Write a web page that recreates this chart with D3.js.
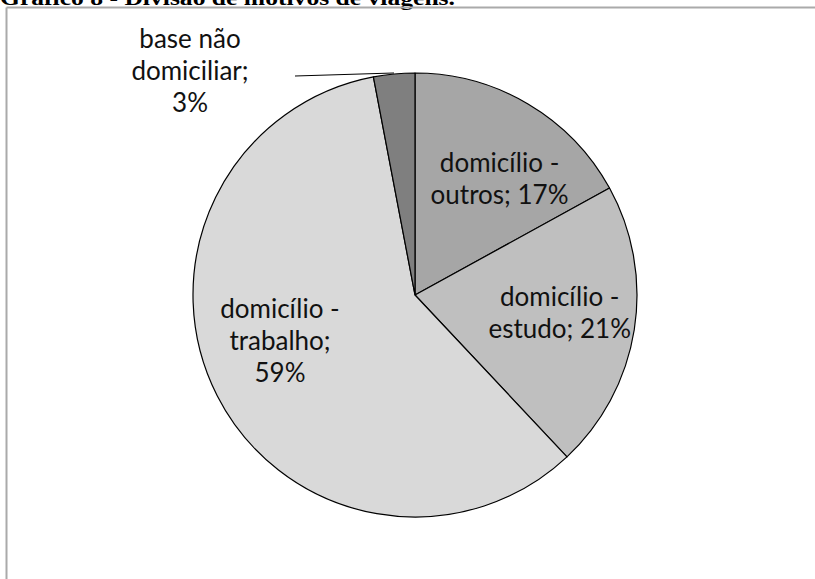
<!DOCTYPE html>
<html>
<head>
<meta charset="utf-8">
<script src="https://cdn.jsdelivr.net/npm/d3@7"></script>
<style>
  body { margin: 0; background: #fff; }
  svg { display: block; }
</style>
</head>
<body>
<svg id="chart" width="815" height="579"></svg>
<script>
// data, clockwise from 12 o'clock
const categories = ["domicílio - outros", "domicílio - estudo", "domicílio - trabalho", "base não domiciliar"];
const shares     = [17, 21, 59, 3];
const fills      = ["#a6a6a6", "#bfbfbf", "#d9d9d9", "#7f7f7f"];
// label lines as they wrap in the picture
const labelLines = [
  ["domicílio -", "outros; 17%"],
  ["domicílio -", "estudo; 21%"],
  ["domicílio -", "trabalho;", "59%"],
  ["base não", "domiciliar;", "3%"]
];

const W = 815, H = 579;
const CX = 415, CY = 295, R = 222;
const LINE_H = 32;

const svg = d3.select("#chart");

// ── title (clipped at the top, like the scan) ──
svg.append("text")
  .attr("x", 0)
  .attr("y", 5)
  .attr("font-family", "Liberation Serif, Times New Roman, serif")
  .attr("font-weight", "bold")
  .attr("font-size", "22px")
  .attr("textLength", 455)
  .attr("lengthAdjust", "spacingAndGlyphs")
  .attr("fill", "#000")
  .text("Gráfico 8 - Divisão de motivos de viagens.");

// ── chart frame (only left + top edges show) ──
svg.append("line")
  .attr("x1", 6.5).attr("y1", 7.5).attr("x2", W).attr("y2", 7.5)
  .attr("stroke", "#aaa").attr("stroke-width", 2);
svg.append("line")
  .attr("x1", 6.5).attr("y1", 7.5).attr("x2", 6.5).attr("y2", H)
  .attr("stroke", "#aaa").attr("stroke-width", 2);

const rows = categories.map((c, i) => ({ name: c, value: shares[i], fill: fills[i], lines: labelLines[i] }));

const pie = d3.pie().value(d => d.value).sort(null);
const arc = d3.arc().innerRadius(0).outerRadius(R);
const arcs = pie(rows);

const g = svg.append("g").attr("transform", `translate(${CX},${CY})`);

g.selectAll("path.slice")
  .data(arcs)
  .join("path")
  .attr("class", "slice")
  .attr("d", arc)
  .attr("fill", d => d.data.fill)
  .attr("stroke", "#000")
  .attr("stroke-width", 1.2)
  .attr("stroke-linejoin", "round");

// label anchors: inside slices for the big ones, outside for the small one
const labelArc = d3.arc().innerRadius(R * 0.66).outerRadius(R * 0.66);
const midAngle = d => (d.startAngle + d.endAngle) / 2;

function labelPos(d, i) {
  if (i === 3) return [190 - CX, 71 - CY];           // outside label, upper-left
  if (i === 2) return [280 - CX, 341 - CY];
  const c = labelArc.centroid(d);
  const tweak = [[10, 10], [0, -5]][i];
  return [c[0] + tweak[0], c[1] + tweak[1]];
}

// leader line for the outside label
const small = arcs[3];
const a = midAngle(small);
const edge = [Math.sin(a) * (R + 1), -Math.cos(a) * (R + 1)];
g.append("line")
  .attr("x1", 295 - CX).attr("y1", 76 - CY)
  .attr("x2", edge[0]).attr("y2", edge[1])
  .attr("stroke", "#000").attr("stroke-width", 1);

arcs.forEach((d, i) => {
  const [x, y] = labelPos(d, i);
  const n = d.data.lines.length;
  const t = g.append("text")
    .attr("text-anchor", "middle")
    .attr("font-family", "Lato, Open Sans, sans-serif")
    .attr("font-size", "26px")
    .attr("fill", "#111");
  d.data.lines.forEach((ln, k) => {
    t.append("tspan")
      .attr("x", x)
      .attr("y", y + (k - (n - 1) / 2) * LINE_H)
      .attr("dy", "0.35em")
      .text(ln);
  });
});
</script>
</body>
</html>
